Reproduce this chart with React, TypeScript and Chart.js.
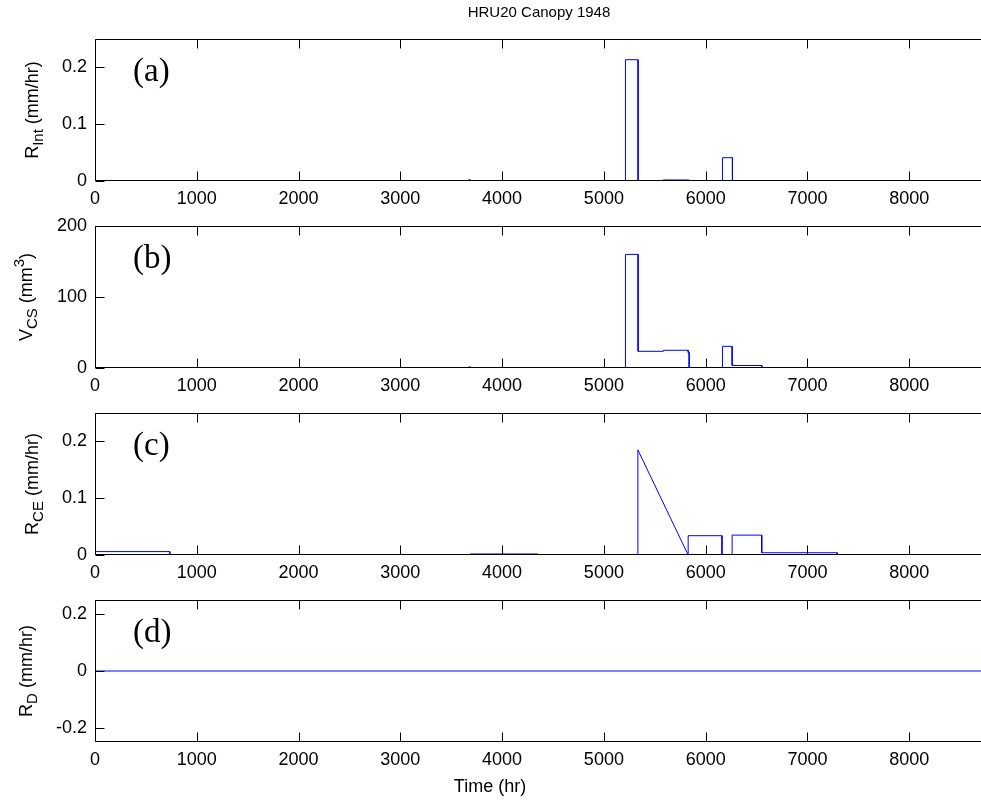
import { useEffect, useRef } from "react";
import { Chart, registerables } from "chart.js";

Chart.register(...registerables);

// ---------- data ----------
const X_MAX = 9000;
const xTickValues = [0, 1000, 2000, 3000, 4000, 5000, 6000, 7000, 8000, 9000];

const rIntHours = [0, 3670, 3670, 3690, 3690, 5212, 5212, 5336, 5336, 5582, 5582, 5838, 5838, 6165, 6165, 6263, 6263, 8784];
const rIntValues = [0, 0, 0.002, 0.002, 0, 0, 0.2135, 0.2135, 0, 0, 0.0018, 0.0018, 0, 0, 0.041, 0.041, 0, 0];
const rIntTicks = [0, 0.1, 0.2];

const vcsHours = [0, 3670, 3670, 3690, 3690, 5212, 5212, 5336, 5336, 5585, 5585, 5828, 5828, 5838, 5838, 6165, 6165, 6260, 6260, 6552, 6552, 8784];
const vcsValues = [0, 0, 1.5, 1.5, 0, 0, 160, 160, 23.5, 23.5, 25, 25, 22, 22, 0, 0, 30.5, 30.5, 3.5, 3.5, 0, 0];
const vcsTicks = [0, 100, 200];

const rceHours = [0, 735, 735, 3685, 3685, 4351, 4351, 5334, 5334, 5828, 5828, 6160, 6160, 6260, 6260, 6551, 6551, 7292, 7292, 8784];
const rceValues = [0.006, 0.006, 0, 0, 0.0018, 0.0018, 0, 0, 0.185, 0, 0.034, 0.034, 0, 0, 0.035, 0.035, 0.004, 0.004, 0, 0];
const rceTicks = [0, 0.1, 0.2];

const rdHours = [0, 8784];
const rdValues = [0, 0];
const rdTicks = [-0.2, 0, 0.2];

const titleText = "HRU20 Canopy 1948";
const xLabelText = "Time (hr)";

type Part = { t: string; k: "n" | "sub" | "sup" };

interface PanelDef {
  hours: number[];
  values: number[];
  yMin: number;
  yMax: number;
  yTicks: number[];
  label: Part[];
  labelX: number;
  letter: string;
  top: number;
}

const panels: PanelDef[] = [
  {
    hours: rIntHours, values: rIntValues, yMin: 0, yMax: 0.25, yTicks: rIntTicks,
    label: [{ t: "R", k: "n" }, { t: "Int", k: "sub" }, { t: " (mm/hr)", k: "n" }],
    labelX: 38, letter: "(a)", top: 39,
  },
  {
    hours: vcsHours, values: vcsValues, yMin: 0, yMax: 200, yTicks: vcsTicks,
    label: [{ t: "V", k: "n" }, { t: "CS", k: "sub" }, { t: " (mm", k: "n" }, { t: "3", k: "sup" }, { t: ")", k: "n" }],
    labelX: 32, letter: "(b)", top: 226,
  },
  {
    hours: rceHours, values: rceValues, yMin: 0, yMax: 0.25, yTicks: rceTicks,
    label: [{ t: "R", k: "n" }, { t: "CE", k: "sub" }, { t: " (mm/hr)", k: "n" }],
    labelX: 38, letter: "(c)", top: 413,
  },
  {
    hours: rdHours, values: rdValues, yMin: -0.25, yMax: 0.25, yTicks: rdTicks,
    label: [{ t: "R", k: "n" }, { t: "D", k: "sub" }, { t: " (mm/hr)", k: "n" }],
    labelX: 32, letter: "(d)", top: 600,
  },
];

const SANS = "'Liberation Sans', Arial, Helvetica, sans-serif";
const SERIF = "'Liberation Serif', 'Times New Roman', serif";
const PAD_TOP = 40;
const PLOT_H = 142;
const AXIS_H = 60;
const CANVAS_W = 1040;
const CANVAS_H = PAD_TOP + PLOT_H + AXIS_H;
const LEFT = 95;
const RIGHT = 1011;

const framePlugin = {
  id: "frame",
  afterDatasetsDraw(chart: any, _args: any, opts: any) {
    const { ctx, chartArea: a, scales } = chart;
    ctx.save();
    ctx.strokeStyle = "#000";
    ctx.lineWidth = 1;
    const L = Math.round(a.left) + 0.5;
    const R = Math.round(a.right) - 0.5;
    const T = Math.round(a.top) + 0.5;
    const B = Math.round(a.bottom) - 0.5;
    ctx.beginPath();
    ctx.rect(L, T, R - L, B - T);
    const tl = 9;
    for (const v of xTickValues) {
      const px = Math.round(scales.x.getPixelForValue(v)) + 0.5;
      ctx.moveTo(px, B);
      ctx.lineTo(px, B - tl);
      ctx.moveTo(px, T);
      ctx.lineTo(px, T + tl);
    }
    for (const v of opts.yTicks as number[]) {
      const py = Math.round(scales.y.getPixelForValue(v)) + 0.5;
      ctx.moveTo(L, py);
      ctx.lineTo(L + tl, py);
      ctx.moveTo(R, py);
      ctx.lineTo(R - tl, py);
    }
    ctx.stroke();
    ctx.restore();
  },
  afterDraw(chart: any, _args: any, opts: any) {
    const { ctx, chartArea: a } = chart;
    ctx.save();
    ctx.fillStyle = "#000";
    // panel letter
    ctx.font = `33px ${SERIF}`;
    ctx.textAlign = "left";
    ctx.textBaseline = "middle";
    ctx.fillText(opts.letter, 133, a.top + 33);

    // y label with sub/superscripts
    const parts = opts.label as Part[];
    const fontFor = (k: string) => (k === "n" ? `18px ${SANS}` : `15px ${SANS}`);
    let total = 0;
    for (const p of parts) {
      ctx.font = fontFor(p.k);
      total += ctx.measureText(p.t).width;
    }
    ctx.translate(opts.labelX, (a.top + a.bottom) / 2);
    ctx.rotate(-Math.PI / 2);
    ctx.textBaseline = "alphabetic";
    ctx.textAlign = "left";
    let x = -total / 2;
    for (const p of parts) {
      ctx.font = fontFor(p.k);
      const off = p.k === "sub" ? 5 : p.k === "sup" ? -8 : 0;
      ctx.fillText(p.t, x, off);
      x += ctx.measureText(p.t).width;
    }
    ctx.restore();

    ctx.save();
    ctx.fillStyle = "#000";
    ctx.textAlign = "center";
    ctx.textBaseline = "middle";
    if (opts.title) {
      ctx.font = `15px ${SANS}`;
      ctx.fillText(opts.title, 539, 14);
    }
    if (opts.xLabel) {
      ctx.font = `18px ${SANS}`;
      ctx.fillText(opts.xLabel, 490, a.bottom + 45);
    }
    ctx.restore();
  },
};

const fmt = (v: number) => (Math.abs(v) < 1e-12 ? "0" : String(v));

export default function App() {
  const refs = useRef<(HTMLCanvasElement | null)[]>([]);

  useEffect(() => {
    const charts: Chart[] = [];
    panels.forEach((p, i) => {
      const canvas = refs.current[i];
      if (!canvas) return;
      const data = p.hours.map((h, j) => ({ x: h, y: p.values[j] }));
      const chart = new Chart(canvas, {
        type: "line",
        data: {
          datasets: [
            {
              data,
              borderColor: "#0000ff",
              borderWidth: 1,
              pointRadius: 0,
              tension: 0,
              fill: false,
            },
          ],
        },
        options: {
          animation: false,
          responsive: false,
          devicePixelRatio: 1,
          events: [],
          layout: { padding: { top: PAD_TOP, left: 0, right: CANVAS_W - RIGHT, bottom: 0 } },
          plugins: {
            legend: { display: false },
            tooltip: { enabled: false },
            frame: {
              yTicks: p.yTicks,
              letter: p.letter,
              label: p.label,
              labelX: p.labelX,
              title: i === 0 ? titleText : null,
              xLabel: i === panels.length - 1 ? xLabelText : null,
            },
          } as any,
          scales: {
            x: {
              type: "linear",
              min: 0,
              max: X_MAX,
              afterBuildTicks: (s: any) => {
                s.ticks = xTickValues.map((v) => ({ value: v }));
              },
              afterFit: (s: any) => {
                s.height = AXIS_H;
              },
              grid: { display: false, drawTicks: false },
              border: { display: false },
              ticks: {
                autoSkip: false,
                maxRotation: 0,
                padding: 7,
                color: "#000",
                font: { family: SANS, size: 18 },
                callback: (v: any) => fmt(Number(v)),
              },
            },
            y: {
              type: "linear",
              min: p.yMin,
              max: p.yMax,
              afterBuildTicks: (s: any) => {
                s.ticks = p.yTicks.map((v) => ({ value: v }));
              },
              afterFit: (s: any) => {
                s.width = LEFT;
              },
              grid: { display: false, drawTicks: false },
              border: { display: false },
              ticks: {
                padding: 8,
                color: "#000",
                font: { family: SANS, size: 18 },
                callback: (v: any) => fmt(Number(v)),
              },
            },
          },
        } as any,
        plugins: [framePlugin as any],
      });
      charts.push(chart);
    });
    return () => charts.forEach((c) => c.destroy());
  }, []);

  return (
    <div
      style={{
        position: "fixed",
        left: 0,
        top: 0,
        width: 981,
        height: 801,
        overflow: "hidden",
        background: "#fff",
      }}
    >
      {panels.map((p, i) => (
        <canvas
          key={i}
          ref={(el) => {
            refs.current[i] = el;
          }}
          width={CANVAS_W}
          height={CANVAS_H}
          style={{
            position: "absolute",
            left: 0,
            top: p.top - PAD_TOP,
            width: CANVAS_W,
            height: CANVAS_H,
          }}
        />
      ))}
    </div>
  );
}
